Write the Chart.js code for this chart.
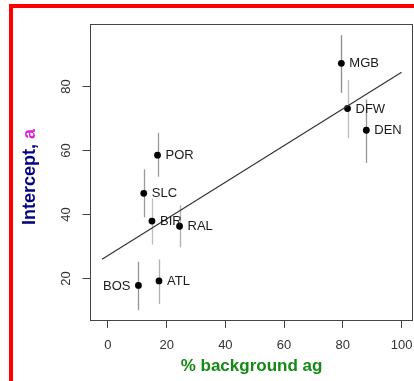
<!DOCTYPE html>
<html>
<head>
<meta charset="utf-8">
<script src="https://cdn.jsdelivr.net/npm/chart.js@4"></script>
<style>
  html, body { margin: 0; padding: 0; background: #fff; overflow: hidden; }
  #wrap { position: relative; width: 414px; height: 381px; }
  #frame { position: absolute; left: 9px; top: 4px; width: 420px; height: 400px; border-left: 4px solid #ff0000; border-top: 4px solid #ff0000; box-sizing: border-box; }
  canvas { position: absolute; left: 0; top: 0; }
</style>
</head>
<body>
<div id="wrap">
  <div id="frame"></div>
  <canvas id="c" width="414" height="381"></canvas>
</div>
<script>
// ---- data ----
const cities   = ["MGB", "DFW", "DEN", "POR", "SLC", "BIR", "RAL", "BOS", "ATL"];
const pctAg    = [79.5, 81.6, 88.0, 16.9, 12.2, 15.0, 24.4, 10.4, 17.4];
const intercept= [87.2, 73.1, 66.3, 58.5, 46.6, 37.9, 36.3, 17.8, 19.2];
const errLow   = [78.0, 63.8, 56.1, 51.8, 39.1, 30.6, 29.7, 10.1, 12.0];
const errHigh  = [96.0, 82.0, 75.9, 65.5, 54.1, 45.0, 42.9, 25.2, 25.9];
const fitX     = [-2, 100];
const fitY     = [26.0, 84.4];
const xTicks   = [0, 20, 40, 60, 80, 100];
const yTicks   = [20, 40, 60, 80];

const barColors = ["#8c8c8c", "#bdbdbd", "#959595", "#9a9a9a", "#9a9a9a", "#bdbdbd", "#b0b0b0", "#959595", "#b0b0b0"];
const labelLeft = ["BOS"];

const FONT = "'Liberation Sans', Arial, Helvetica, sans-serif";

const frameAndDecor = {
  id: 'decor',
  beforeDatasetsDraw(chart) {
    const {ctx, chartArea: a, scales: {x, y}} = chart;
    ctx.save();
    // error bars
    for (let i = 0; i < cities.length; i++) {
      const px = Math.round(x.getPixelForValue(pctAg[i])) + 0.5;
      ctx.strokeStyle = barColors[i];
      ctx.lineWidth = 1.3;
      ctx.beginPath();
      ctx.moveTo(px, y.getPixelForValue(errLow[i]));
      ctx.lineTo(px, y.getPixelForValue(errHigh[i]));
      ctx.stroke();
    }
    ctx.restore();
  },
  afterDraw(chart) {
    const {ctx, chartArea: a, scales: {x, y}} = chart;
    ctx.save();
    // box
    ctx.strokeStyle = "#444";
    ctx.lineWidth = 1;
    ctx.strokeRect(Math.round(a.left) + 0.5, Math.round(a.top) + 0.5, Math.round(a.right - a.left) - 1, Math.round(a.bottom - a.top));
    // y tick marks
    const lx = Math.round(a.left) + 0.5;
    ctx.beginPath();
    for (const v of yTicks) {
      const py = Math.round(y.getPixelForValue(v)) + 0.5;
      ctx.moveTo(lx - 8, py);
      ctx.lineTo(lx, py);
    }
    ctx.stroke();
    // y tick labels (rotated, R style)
    ctx.fillStyle = "#333";
    ctx.font = "13px " + FONT;
    ctx.textAlign = "center";
    ctx.textBaseline = "middle";
    for (const v of yTicks) {
      const py = y.getPixelForValue(v);
      ctx.save();
      ctx.translate(66, py);
      ctx.rotate(-Math.PI / 2);
      ctx.fillText(String(v), 0, 0);
      ctx.restore();
    }
    // point labels
    ctx.fillStyle = "#1a1a1a";
    ctx.font = "13px " + FONT;
    ctx.textBaseline = "middle";
    for (let i = 0; i < cities.length; i++) {
      const px = x.getPixelForValue(pctAg[i]);
      const py = y.getPixelForValue(intercept[i]);
      if (labelLeft.includes(cities[i])) {
        ctx.textAlign = "right";
        ctx.fillText(cities[i], px - 8, py + 0.5);
      } else {
        ctx.textAlign = "left";
        ctx.fillText(cities[i], px + 8, py + 0.5);
      }
    }
    // y axis title, two colours
    ctx.font = "bold 18px " + FONT;
    const t1 = "Intercept, ", t2 = "a";
    const w1 = ctx.measureText(t1).width, w2 = ctx.measureText(t2).width;
    const total = w1 + w2;
    const cy = (a.top + a.bottom) / 2 + 5;
    ctx.save();
    ctx.translate(30, cy);
    ctx.rotate(-Math.PI / 2);
    ctx.textAlign = "left";
    ctx.textBaseline = "middle";
    ctx.fillStyle = "#000080";
    ctx.fillText(t1, -total / 2, 0);
    ctx.fillStyle = "#e020d8";
    ctx.fillText(t2, -total / 2 + w1, 0);
    ctx.restore();
    ctx.restore();
  }
};

new Chart(document.getElementById('c'), {
  type: 'scatter',
  data: {
    datasets: [
      {
        type: 'line',
        data: fitX.map((v, i) => ({x: v, y: fitY[i]})),
        borderColor: "#333",
        borderWidth: 1.2,
        pointRadius: 0,
        fill: false,
        tension: 0
      },
      {
        data: pctAg.map((v, i) => ({x: v, y: intercept[i]})),
        backgroundColor: "#000",
        borderColor: "#000",
        pointRadius: 3.4,
        pointBorderWidth: 0
      }
    ]
  },
  options: {
    responsive: false,
    animation: false,
    devicePixelRatio: 1,
    layout: { autoPadding: false, padding: { left: 0, top: 24, right: 1, bottom: 0 } },
    plugins: { legend: { display: false }, tooltip: { enabled: false } },
    scales: {
      x: {
        type: 'linear',
        min: -6.1, max: 103.9,
        afterBuildTicks: s => { s.ticks = xTicks.map(v => ({value: v})); },
        afterFit: s => { s.height = 61; s.paddingLeft = 0; s.paddingRight = 0; },
        border: { display: false },
        grid: { display: true, drawOnChartArea: false, drawTicks: true, tickLength: 8, color: "#444", lineWidth: 1 },
        ticks: { color: "#333", font: { family: FONT, size: 13 }, padding: 10, maxRotation: 0 },
        title: { display: true, text: "% background ag", color: "#138a13", font: { family: FONT, size: 17, weight: 'bold' }, padding: { top: 0, bottom: 4 } }
      },
      y: {
        type: 'linear',
        min: 7, max: 99.5,
        afterBuildTicks: s => { s.ticks = yTicks.map(v => ({value: v})); },
        afterFit: s => { s.width = 90; s.paddingTop = 0; s.paddingBottom = 0; },
        border: { display: false },
        grid: { display: false },
        ticks: { display: false }
      }
    }
  },
  plugins: [frameAndDecor]
});
</script>
</body>
</html>
